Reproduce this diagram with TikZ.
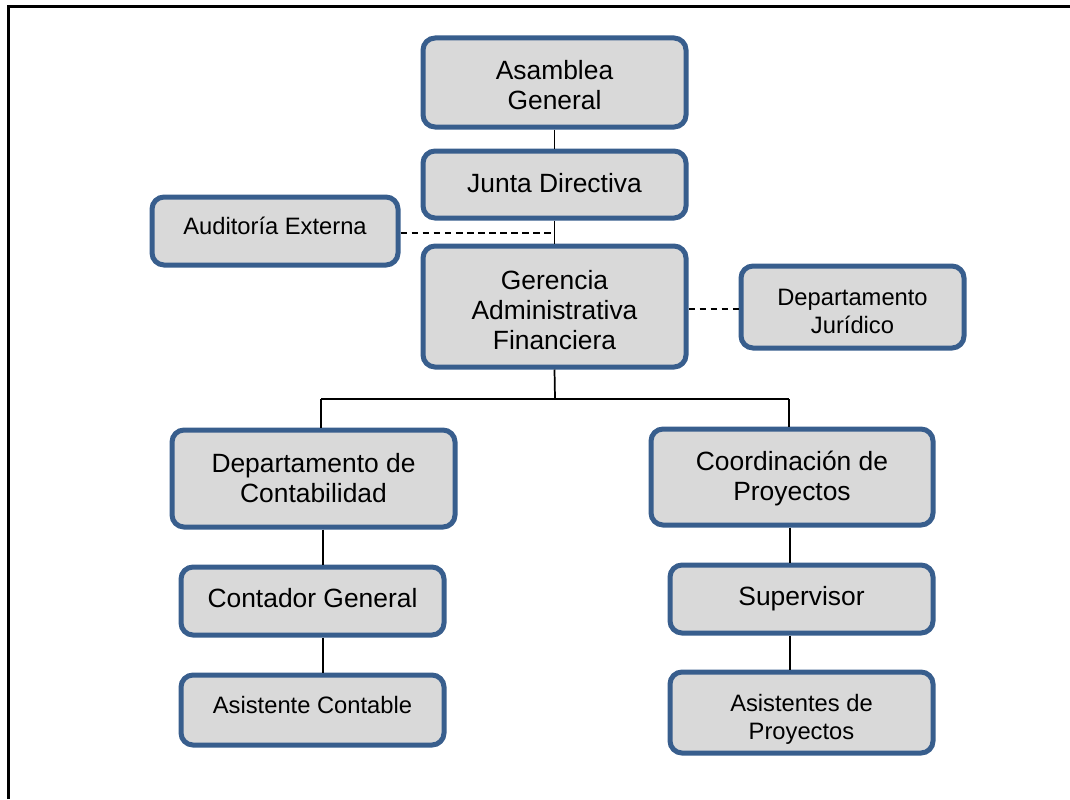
\documentclass[tikz,border=0pt]{standalone}
\usepackage{fontspec}
\setmainfont{Liberation Sans}
\begin{document}
\definecolor{boxline}{RGB}{56,94,141}
\definecolor{boxfill}{RGB}{217,217,217}
\begin{tikzpicture}[x=0.75pt,y=-0.75pt,
  orgbox/.style={draw=boxline, fill=boxfill, line width=3.75pt,
    rounded corners=9pt, inner sep=0pt},
  bigtext/.style={font=\fontsize{19.8pt}{22.5pt}\selectfont, align=center},
  smalltext/.style={font=\fontsize{17.8pt}{21pt}\selectfont, align=center},
  link/.style={line width=1.3pt, black},
  aux/.style={line width=1.2pt, black, dash pattern=on 5pt off 3.3pt}]
\useasboundingbox (0,0) rectangle (1070,799);
% page frame (left and top edges)
\draw[line width=2.25pt] (8.5,799) -- (8.5,6.5) -- (1070,6.5);

% boxes, each with its caption as a centred label
\node[orgbox, minimum width=197.25pt, minimum height=66.75pt,
  label={[bigtext, yshift=-2.25pt]center:Asamblea\\General}] (asamblea) at (554.5,82.5) {};
\node[orgbox, minimum width=197.25pt, minimum height=50.25pt,
  label={[bigtext, yshift=0.75pt]center:Junta Directiva}] (junta) at (554.5,184.5) {};
\node[orgbox, minimum width=184.5pt, minimum height=51pt,
  label={[smalltext, yshift=3.75pt]center:Auditoría Externa}] (auditoria) at (275,231) {};
\node[orgbox, minimum width=197.25pt, minimum height=90.75pt,
  label={[bigtext, yshift=-3pt]center:Gerencia\\Administrativa\\Financiera}] (gerencia) at (554.5,306.5) {};
\node[orgbox, minimum width=167.25pt, minimum height=61.5pt,
  label={[smalltext, yshift=-3pt]center:Departamento\\Jurídico}] (juridico) at (852.5,307) {};
\node[orgbox, minimum width=212.25pt, minimum height=72.75pt,
  label={[bigtext]center:Departamento de\\Contabilidad}] (contab) at (313.5,478.5) {};
\node[orgbox, minimum width=211.5pt, minimum height=72pt,
  label={[bigtext, yshift=-1.5pt]center:Coordinación de\\Proyectos}] (coord) at (792,477) {};
\node[orgbox, minimum width=197.25pt, minimum height=51pt,
  label={[bigtext, yshift=2.25pt]center:Contador General}] (contador) at (312.5,601) {};
\node[orgbox, minimum width=197.25pt, minimum height=51pt,
  label={[bigtext]center:Supervisor}] (supervisor) at (801.5,599) {};
\node[orgbox, minimum width=197.25pt, minimum height=52.5pt,
  label={[smalltext, yshift=3.75pt]center:Asistente Contable}] (asistente) at (312.5,710) {};
\node[orgbox, minimum width=197.25pt, minimum height=60.75pt,
  label={[smalltext, yshift=-5.25pt]center:Asistentes de\\Proyectos}] (asistentes) at (801.5,712.5) {};

% connector points
\coordinate (bus) at (555,399);
\coordinate (busl) at (321,399);
\coordinate (busr) at (789,399);
\coordinate (colL) at (323,0);
\coordinate (colR) at (790,0);

% solid reporting lines
\draw[link] (asamblea.south) -- (junta.north);
\draw[link] (junta.south) -- (gerencia.north);
\draw[link] (gerencia.south) -- (bus);
\draw[link] (busl) -- (busr);
\draw[link] (busl) -- (busl |- contab.north);
\draw[link] (busr) -- (busr |- coord.north);
\draw[link] (colL |- contab.south) -- (colL |- contador.north);
\draw[link] (colL |- contador.south) -- (colL |- asistente.north);
\draw[link] (colR |- coord.south) -- (colR |- supervisor.north);
\draw[link] (colR |- supervisor.south) -- (colR |- asistentes.north);

% advisory (dashed) lines
\draw[aux] ([yshift=-1.5pt]auditoria.east) -- ([yshift=-1.5pt]auditoria.east -| junta.south);
\draw[aux] ([yshift=-1.5pt]juridico.west -| gerencia.east) -- ([yshift=-1.5pt]juridico.west);
\end{tikzpicture}
\end{document}
